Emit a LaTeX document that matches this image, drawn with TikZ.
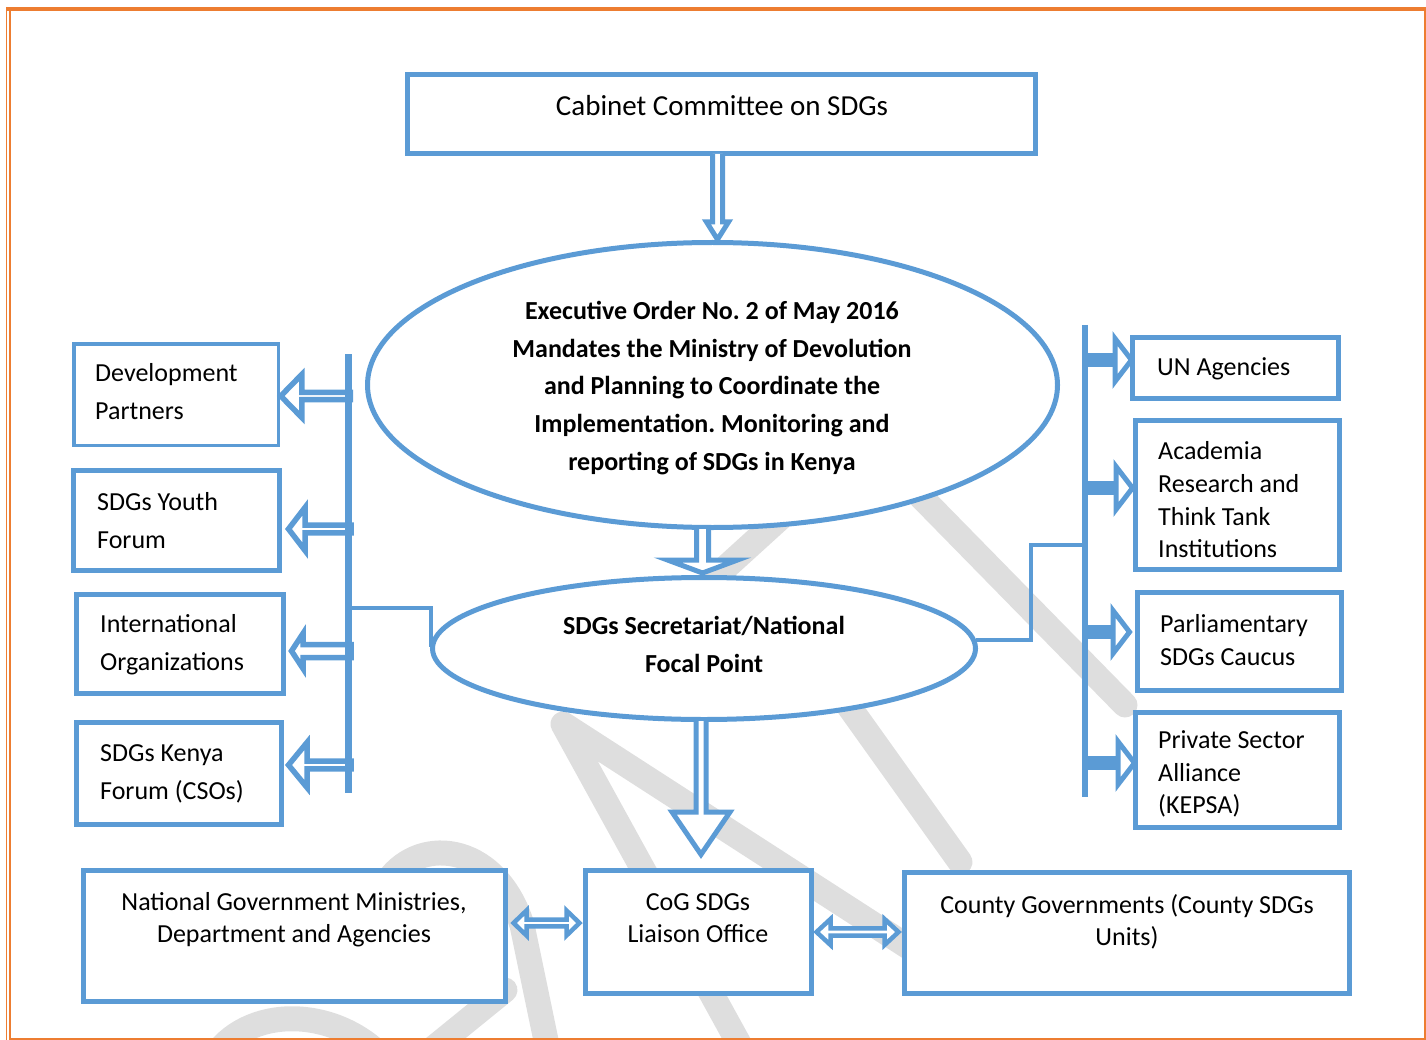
\documentclass[tikz,border=0pt]{standalone}
\usepackage{fontspec}
\setmainfont{Carlito}
\frenchspacing
\usetikzlibrary{shapes.geometric,calc}
\definecolor{bl}{HTML}{5B9BD5}
\definecolor{orng}{HTML}{ED7D31}
\definecolor{wmgray}{HTML}{DEDEDE}
% left-pointing block arrow: #1 tip, #2 head length, #3 head half, #4 shaft half, #5 shaft length, #6 style
\newcommand{\mkLArr}[6]{\filldraw[#6] #1 -- ++(#2,-#3) -- ++(0,#3-#4) -- ++(#5,0) -- ++(0,2*#4) -- ++(-#5,0) -- ++(0,#3-#4) -- cycle;}
% right-pointing arrow head + solid shaft: #1 tip, #2 shaft length
\newcommand{\mkRArr}[2]{\filldraw[blk] #1 -- ++(-16.5,-21.5) -- ++(0,43) -- cycle; \draw[rshaft] #1 ++(-16.5,0) -- ++(-#2,0);}
% down block arrow: #1 top centre, #2 shaft length, #3 head length, #4 head half, #5 shaft half
\newcommand{\mkDArr}[5]{\filldraw[blk] #1 ++(-#5,0) -- ++(0,#2) -- ++(#5-#4,0) -- ++(#4,#3) -- ++(#4,-#3) -- ++(#5-#4,0) -- ++(0,-#2);}
% double-headed horizontal arrow: #1 left tip, #2 length, #3 head length, #4 head half, #5 shaft half
\newcommand{\mkHArr}[5]{\filldraw[blk, line width=4.5pt] #1 -- ++(#3,-#4) -- ++(0,#4-#5) -- ++(#2-2*#3,0) -- ++(0,#5-#4) -- ++(#3,#4) -- ++(-#3,#4) -- ++(0,#5-#4) -- ++(2*#3-#2,0) -- ++(0,#4-#5) -- cycle;}
\tikzset{
 box/.style={draw=bl, line width=5pt, fill=white, inner sep=0pt},
 ell/.style={ellipse, draw=bl, line width=5pt, fill=white, inner sep=0pt},
 txt/.style={inner sep=0pt, text=black, font=\fontsize{26}{38}\selectfont},
 blk/.style={draw=bl, line width=5pt, fill=white, line join=miter, miter limit=10},
 larr/.style={blk, line width=5.5pt},
 rshaft/.style={draw=bl, line width=13.5pt},
 bar/.style={draw=bl, line width=6.5pt},
 conn/.style={draw=bl, line width=4.5pt},
 wm/.style={draw=wmgray, line width=25pt, line cap=round, line join=round},
 border/.style={draw=orng},
}
\begin{document}
\begin{tikzpicture}[x=1pt,y=-1pt]
\useasboundingbox (0,0) rectangle (1426,1040);
% watermark
\draw[wm] (880,455) -- (1125,705);
\draw[wm] (748,1060) -- (563,724) -- (910,948);
\draw[wm] (830,680) -- (960,862);
\draw[wm] (800,500) -- (690,600);
\draw[wm] (385,885) .. controls (415,835) and (495,840) .. (522,925) -- (548,1050);
\draw[wm] (212,1060) .. controls (245,1005) and (335,1005) .. (385,1060);
\draw[wm] (425,1055) -- (505,990);
% page border
\draw[border, line width=3.6pt] (6,8.8) -- (1426,8.8);
\draw[border, line width=1.4pt] (6.7,7) -- (6.7,1040);
\draw[border, line width=1.7pt] (9.9,10) -- (9.9,1040);
\draw[border, line width=2pt] (1425,7) -- (1425,1040);
\draw[border, line width=2pt] (9,1039) -- (1426,1039);
% main shapes
\node[box, minimum width=628pt, minimum height=79pt] (cab) at (721.5,114) {};
\node[ell, minimum width=690pt, minimum height=285pt] (e1) at (712.5,385) {};
\node[ell, minimum width=543pt, minimum height=142pt] (e2) at (704,648.5) {};
% left boxes
\node[box, line width=3.5pt, minimum width=204.5pt, minimum height=101.5pt] (dp) at (176,394.5) {};
\node[box, minimum width=205.5pt, minimum height=99.5pt] (yf) at (176.5,520.5) {};
\node[box, minimum width=206.5pt, minimum height=98.5pt] (io) at (180,644) {};
\node[box, minimum width=204.5pt, minimum height=101.5pt] (kf) at (179,773.5) {};
% right boxes
\node[box, minimum width=206pt, minimum height=61pt] (un) at (1235.5,368) {};
\node[box, minimum width=204pt, minimum height=149pt] (ac) at (1237.5,495) {};
\node[box, minimum width=204pt, minimum height=98pt] (pc) at (1239.5,641.5) {};
\node[box, minimum width=204pt, minimum height=115pt] (ps) at (1237.5,770) {};
% bottom boxes
\node[box, minimum width=422pt, minimum height=131pt] (nat) at (294.5,936) {};
\node[box, minimum width=226pt, minimum height=123pt] (cog) at (698.5,932) {};
\node[box, minimum width=445pt, minimum height=121pt] (cty) at (1127,933) {};
% bars
\coordinate (lbt) at (348.5,354);
\coordinate (lbb) at (348.5,793);
\coordinate (rbt) at (1085,325);
\coordinate (rbb) at (1085,797);
% connectors from secretariat to bars
\draw[conn] (e2.west) ++(1,-2) |- (348.5,608);
\draw[conn] (e2.east) ++(-2,-8.5) -- (1031,640) |- (1085,545);
% left arrows
\mkLArr{($(dp.east)+(0.75,1.5)$)}{21}{21.5}{3.6}{48.5}{larr}
\mkLArr{($(yf.east)+(6.75,8.5)$)}{16.5}{21.5}{3.8}{46}{larr}
\mkLArr{($(io.east)+(5.75,7)$)}{11.5}{17.5}{6.5}{48}{larr}
\mkLArr{($(kf.east)+(4.75,-8.5)$)}{18.5}{22.5}{3.8}{44}{larr}
% right arrows
\mkRArr{($(un.west)+(1.5,-8)$)}{32.5}
\mkRArr{($(ac.west)+(-0.5,-7)$)}{33.5}
\mkRArr{($(pc.west)+(-5.5,-9.5)$)}{30.5}
\mkRArr{($(ps.west)+(1.5,-7)$)}{35.5}
\draw[bar] (lbt) -- (lbb);
\draw[bar, line width=6pt] (rbt) -- (rbb);
% vertical arrows
\mkDArr{($(cab.south)+(-4,-2)$)}{68}{17.5}{11}{5}
\mkDArr{($(e1.south)+(-10,-1)$)}{31}{13}{35}{6}
\mkDArr{($(e2.south)+(-3,-1)$)}{91}{42.5}{29}{5}
% double arrows
\mkHArr{($(nat.east)+(5.5,-13)$)}{66}{13}{12.5}{3.3}
\mkHArr{($(cog.east)+(2.5,0)$)}{82}{14}{13}{3.6}
% texts
\node[txt, font=\fontsize{29}{35}\selectfont] (tcab) at (722,106) {Cabinet Committee on SDGs};
\node[txt, align=center, font=\fontsize{26}{37.7}\selectfont\bfseries] (te1) at (712,388) {Executive Order No. 2 of May 2016\\Mandates the Ministry of Devolution\\and Planning to Coordinate the\\Implementation. Monitoring and\\reporting of SDGs in Kenya};
\node[txt, align=center, font=\fontsize{26}{38}\selectfont\bfseries] (te2) at (704,644) {SDGs Secretariat/National\\Focal Point};
\node[txt, anchor=west, align=left] (tdp) at (95,392) {Development\\Partners};
\node[txt, anchor=west, align=left] (tyf) at (97,521) {SDGs Youth\\Forum};
\node[txt, anchor=west, align=left] (tio) at (100,645) {International\\Organizations};
\node[txt, anchor=west, align=left] (tkf) at (100,774) {SDGs Kenya\\Forum (CSOs)};
\node[txt, anchor=west, align=left] (tun) at (1157,369) {UN Agencies};
\node[txt, anchor=west, align=left, font=\fontsize{26}{32.7}\selectfont] (tac) at (1158,500) {Academia\\Research and\\Think Tank\\Institutions};
\node[txt, anchor=west, align=left, font=\fontsize{26}{33}\selectfont] (tpc) at (1160,640) {Parliamentary\\SDGs Caucus};
\node[txt, anchor=west, align=left, font=\fontsize{26}{32.5}\selectfont] (tps) at (1158,774) {Private Sector\\Alliance\\(KEPSA)};
\node[txt, align=center, font=\fontsize{26}{32}\selectfont] (tnat) at (294,920) {National Government Ministries,\\Department and Agencies};
\node[txt, align=center, font=\fontsize{26}{32}\selectfont] (tcog) at (698,918) {CoG SDGs\\Liaison Office};
\node[txt, align=center, font=\fontsize{26}{32}\selectfont] (tcty) at (1127,922) {County Governments (County SDGs\\Units)};
\end{tikzpicture}
\end{document}
